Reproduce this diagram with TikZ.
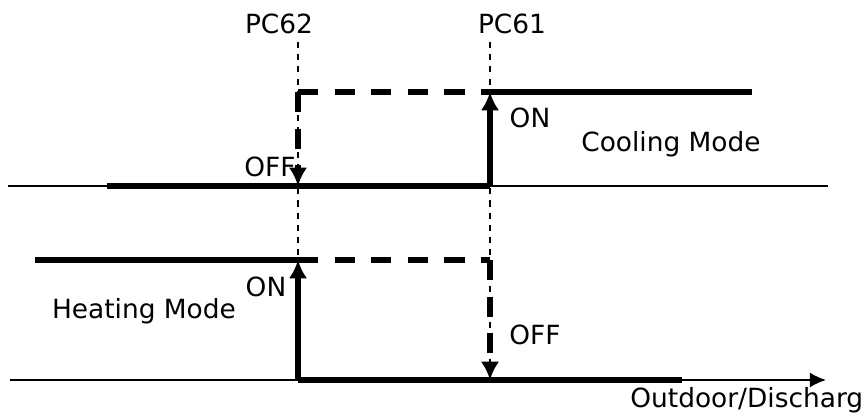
\documentclass[tikz,border=0pt]{standalone}
\usepackage{fontspec}
\setmainfont{DejaVu Sans}
\usetikzlibrary{arrows.meta,positioning}

\begin{document}
\begin{tikzpicture}[
x=0.0173cm,y=-0.0173cm,
axis/.style={line width=1pt},
state/.style={line width=2.6pt},
hyst/.style={line width=2.6pt,dash pattern=on 10pt off 8pt},
guide/.style={line width=0.7pt,dash pattern=on 3pt off 3pt},
switch/.style={-{Latex[length=9pt,width=9pt]},line width=2.6pt},
dswitch/.style={-{Latex[length=9pt,width=9pt]},line width=2.6pt,dash pattern=on 10pt off 8pt},
lbl/.style={font=\fontsize{13}{15}\selectfont,inner sep=0pt}]
\useasboundingbox (0,0) rectangle (867,412);
% thresholds
\coordinate (pc62t) at (298,42);  \coordinate (pc62b) at (298,372);
\coordinate (pc61t) at (490,42);  \coordinate (pc61b) at (490,372);
\draw[guide] (pc62t)--(pc62b);
\draw[guide] (pc61t)--(pc61b);
\node[lbl] (pc62) at (279,24) {PC62};
\node[lbl] (pc61) at (512,24) {PC61};
% cooling
\coordinate (caxl) at (8,186);    \coordinate (caxr) at (828,186);
\coordinate (coffl) at (107,186); \coordinate (coff62) at (298,186); \coordinate (coff61) at (490,186);
\coordinate (con62) at (298,92);  \coordinate (con61) at (490,92); \coordinate (conr) at (752,92);
\draw[axis] (caxl)--(caxr);
\draw[state] (coffl)--(coff61);
\draw[state] (con61)--(conr);
\draw[switch] (coff61)--(con61);
\draw[hyst] (con62)--(con61);
\draw[dswitch] (con62)--(coff62);
\node[lbl] (coff) at (270,167) {OFF};
\node[lbl] (con) at (530,118) {ON};
\node[lbl] (cool) at (671,144) {Cooling Mode};
% heating
\coordinate (haxl) at (10,380);   \coordinate (haxr) at (826,380);
\coordinate (honl) at (35,260);   \coordinate (hon62) at (298,260); \coordinate (hon61) at (490,260);
\coordinate (hoff62) at (298,380); \coordinate (hoff61) at (490,380); \coordinate (hoffr) at (682,380);
\draw[axis,-{Latex[length=8pt,width=7.5pt]}] (haxl)--(haxr);
\draw[state] (honl)--(hon62);
\draw[state] (hoff62)--(hoffr);
\draw[switch] (hoff62)--(hon62);
\draw[hyst] (hon62)--(hon61);
\draw[dswitch] (hon61)--(hoff61);
\node[lbl] (hon) at (266,287) {ON};
\node[lbl] (heat) at (144,311) {Heating Mode};
\node[lbl] (hoff) at (535,335) {OFF};
\node[lbl,anchor=west] (xlbl) at (630,400) {Outdoor/Discharg};
\end{tikzpicture}
\end{document}
